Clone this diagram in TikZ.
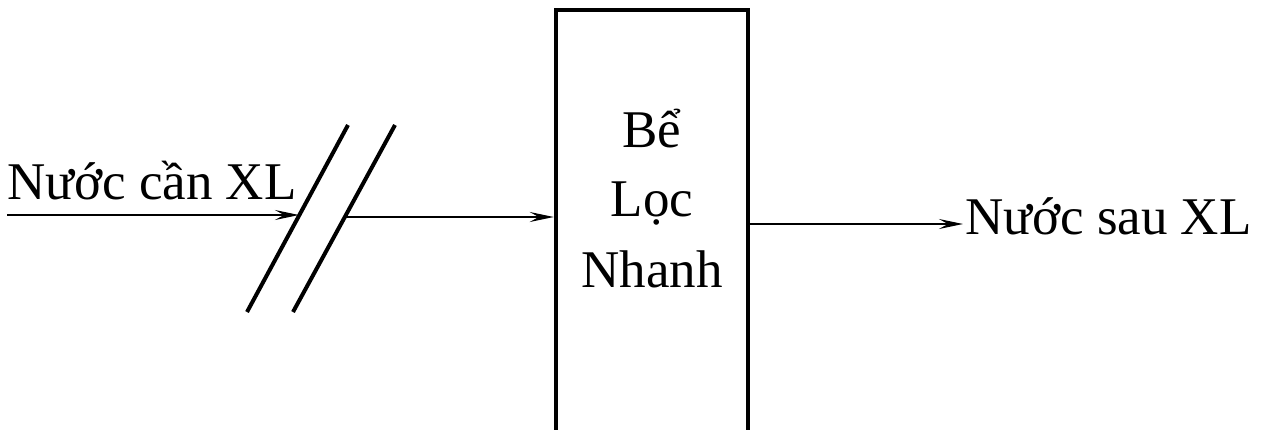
\documentclass[tikz,border=0pt]{standalone}
\usepackage{fontspec}
\setmainfont{Liberation Serif}
\usetikzlibrary{arrows.meta}

\tikzset{
  label text/.style={inner sep=0pt, font=\fontsize{53}{60}\selectfont},
  flow/.style={line width=2pt, -{Stealth[length=24pt, width=10pt, inset=9pt]}},
  breakline/.style={line width=4pt},
  tank/.style={draw, line width=4.5pt, rectangle, inner sep=0pt,
               minimum width=192pt, minimum height=510pt}
}

\begin{document}
\begin{tikzpicture}[x=1pt, y=-1pt]
  \clip (0,0) rectangle (1264,429);
  \fill[white] (0,0) rectangle (1264,429);

  % filter tank, open at the bottom edge
  \node[tank] (box) at (652,264.75) {};
  \node[label text, anchor=base] (t1) at (652,147) {Bể};
  \node[label text, anchor=base] (t2) at (652,216) {Lọc};
  \node[label text, anchor=base] (t3) at (652,287) {Nhanh};

  % double break mark on the inlet line
  \coordinate (s1a) at (247,312);
  \coordinate (s1b) at (348,125);
  \coordinate (s2a) at (293,312);
  \coordinate (s2b) at (395,125);
  \draw[breakline] (s1a) -- (s1b);
  \draw[breakline] (s2a) -- (s2b);

  % inlet
  \node[label text, anchor=base west] (inlbl) at (7,199) {Nước cần XL};
  \coordinate (in0) at (7,215);
  \coordinate (in1) at (299,215);
  \draw[flow] (in0) -- (in1);
  \coordinate (mid0) at (345,217);
  \draw[flow] (mid0) -- (mid0 -| box.west);

  % outlet
  \coordinate (outtip) at (963,224);
  \draw[flow] (outtip -| box.east) -- (outtip);
  \node[label text, anchor=base west] (outlbl) at (965,234) {Nước sau XL};
\end{tikzpicture}
\end{document}
